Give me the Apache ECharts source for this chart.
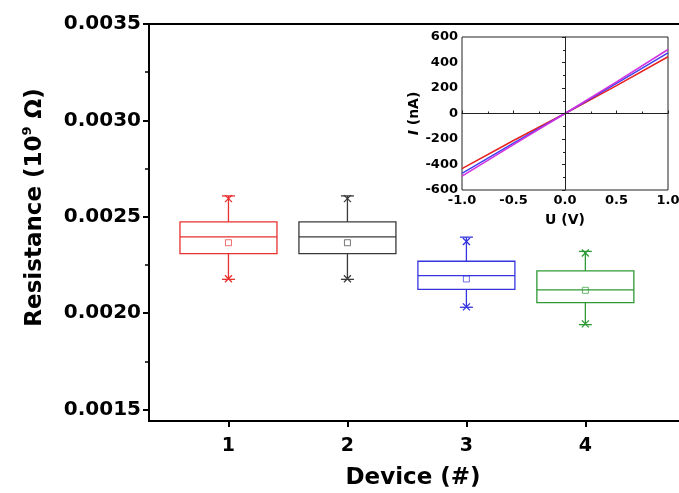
<!DOCTYPE html>
<html>
<head>
<meta charset="utf-8">
<script src="https://cdn.jsdelivr.net/npm/echarts@6/dist/echarts.min.js"></script>
<style>
  html, body { margin: 0; padding: 0; background: #fff; }
  #main { width: 679px; height: 493px; }
</style>
</head>
<body>
<div id="main"></div>
<script>
// box plot data, resistance in 10^9 ohm
var devices = [1, 2, 3, 4];
var boxMin = [0.002175, 0.002175, 0.00203, 0.00194];
var boxQ1 = [0.002308, 0.002308, 0.002123, 0.002054];
var boxMedian = [0.002395, 0.002395, 0.002194, 0.00212];
var boxQ3 = [0.002473, 0.002473, 0.002269, 0.002219];
var boxMax = [0.002608, 0.002608, 0.002394, 0.00232];
var boxMean = [0.002365, 0.002365, 0.002177, 0.002118];
var markHigh = [0.002594, 0.002594, 0.002371, 0.002312];
var markLow = [0.002178, 0.002178, 0.002032, 0.001944];
var boxColors = ['#e8302f', '#3a3a3a', '#3535e0', '#2e9a35'];

var yTicks = [0.0015, 0.002, 0.0025, 0.003, 0.0035];
var yMinorTicks = [0.00175, 0.00225, 0.00275, 0.00325];

// inset I-V curves
var ivVoltage = [-1, -0.5, 0, 0.5, 1];
var ivRed = [-432, -212, 0, 218, 445];
var ivBlue = [-470, -232, 0, 236, 475];
var ivMagenta = [-492, -244, 0, 248, 502];

var chart = echarts.init(document.getElementById('main'));

var boxData = devices.map(function (d, i) {
  return [d, boxMin[i], boxQ1[i], boxMedian[i], boxQ3[i], boxMax[i], boxMean[i], markHigh[i], markLow[i]];
});

function pairs(xs, ys) {
  return xs.map(function (x, i) { return [x, ys[i]]; });
}

function renderBox(params, api) {
  var x = api.value(0);
  var color = boxColors[params.dataIndex];
  var pt = function (v) { return api.coord([x, v]); };
  var pMin = pt(api.value(1)), pQ1 = pt(api.value(2)), pMed = pt(api.value(3));
  var pQ3 = pt(api.value(4)), pMax = pt(api.value(5)), pMean = pt(api.value(6));
  var pHi = pt(api.value(7)), pLo = pt(api.value(8));
  var cx = pMed[0];
  var hw = 48.5, cap = 6.5, ms = 3, xs = 3.5;
  var st = { stroke: color, fill: null, lineWidth: 1.3 };
  function line(x1, y1, x2, y2) {
    return { type: 'line', shape: { x1: x1, y1: y1, x2: x2, y2: y2 }, style: st };
  }
  return {
    type: 'group',
    children: [
      { type: 'rect', shape: { x: cx - hw, y: pQ3[1], width: hw * 2, height: pQ1[1] - pQ3[1] }, style: st },
      line(cx - hw, pMed[1], cx + hw, pMed[1]),
      line(cx, pQ3[1], cx, pMax[1]),
      line(cx, pQ1[1], cx, pMin[1]),
      line(cx - cap, pMax[1], cx + cap, pMax[1]),
      line(cx - cap, pMin[1], cx + cap, pMin[1]),
      line(cx - xs, pHi[1] - xs, cx + xs, pHi[1] + xs),
      line(cx - xs, pHi[1] + xs, cx + xs, pHi[1] - xs),
      line(cx - xs, pLo[1] - xs, cx + xs, pLo[1] + xs),
      line(cx - xs, pLo[1] + xs, cx + xs, pLo[1] - xs),
      { type: 'rect', shape: { x: cx - ms, y: pMean[1] - ms, width: ms * 2, height: ms * 2 },
        style: { stroke: color, fill: null, lineWidth: 1, opacity: 0.7 } }
    ]
  };
}

var bold = 'DejaVu Sans';

var option = {
  backgroundColor: '#fff',
  animation: false,
  grid: [{
    left: 149,
    top: 24,
    width: 547,
    bottom: 72,
    outerBoundsMode: 'none',
    show: true,
    borderColor: '#000',
    borderWidth: 2,
    backgroundColor: 'transparent'
  }, {
    left: 462,
    top: 37,
    width: 206,
    height: 153,
    outerBoundsMode: 'none',
    show: true,
    borderColor: '#222',
    borderWidth: 1,
    backgroundColor: '#fff'
  }],
  xAxis: [{
    type: 'value',
    gridIndex: 0,
    min: 0.332,
    max: 4.93,
    name: 'Device (#)',
    nameLocation: 'middle',
    nameGap: 46,
    nameTextStyle: { fontFamily: bold, fontWeight: 'bold', fontSize: 23, color: '#000', padding: [0, 19, 0, 0] },
    splitLine: { show: false },
    axisLine: { lineStyle: { color: '#000', width: 2 } },
    axisTick: { customValues: devices, length: 6, lineStyle: { color: '#000', width: 2 } },
    axisLabel: {
      customValues: devices, margin: 16,
      fontFamily: bold, fontWeight: 'bold', fontSize: 19, color: '#000'
    }
  }, {
    type: 'value',
    gridIndex: 1,
    min: -1,
    max: 1,
    interval: 0.5,
    name: 'U (V)',
    nameLocation: 'middle',
    nameGap: 23,
    nameTextStyle: { fontFamily: bold, fontWeight: 'bold', fontSize: 14, color: '#000' },
    splitLine: { show: false },
    axisLine: { lineStyle: { color: '#222', width: 1 } },
    axisTick: { inside: true, length: 3, lineStyle: { color: '#222' } },
    minorTick: { show: true, splitNumber: 2, length: 2, lineStyle: { color: '#222' } },
    axisLabel: {
      margin: 4, fontFamily: bold, fontWeight: 'bold', fontSize: 13, color: '#000',
      formatter: function (v) { return v.toFixed(1); }
    }
  }],
  yAxis: [{
    type: 'value',
    gridIndex: 0,
    min: 0.00144,
    max: 0.0035,
    name: '{a|Resistance (10}{s|9}{a| Ω)}',
    nameLocation: 'middle',
    nameGap: 100,
    nameTextStyle: {
      padding: [0, 0, 0, 30],
      rich: {
        a: { fontFamily: bold, fontWeight: 'bold', fontSize: 23, color: '#000', lineHeight: 28 },
        s: { fontFamily: bold, fontWeight: 'bold', fontSize: 13, color: '#000', lineHeight: 14, verticalAlign: 'top' }
      }
    },
    splitLine: { show: false },
    axisLine: { lineStyle: { color: '#000', width: 2 } },
    axisTick: { customValues: yTicks, length: 6, lineStyle: { color: '#000', width: 2 } },
    axisLabel: {
      customValues: yTicks, margin: 8,
      fontFamily: bold, fontWeight: 'bold', fontSize: 20, color: '#000',
      formatter: function (v) { return v.toFixed(4); }
    }
  }, {
    // minor ticks only
    type: 'value',
    gridIndex: 0,
    min: 0.00144,
    max: 0.0035,
    position: 'left',
    splitLine: { show: false },
    axisLine: { show: false },
    axisTick: { customValues: yMinorTicks, length: 4, lineStyle: { color: '#000', width: 1.5 } },
    axisLabel: { show: false }
  }, {
    type: 'value',
    gridIndex: 1,
    min: -600,
    max: 600,
    interval: 200,
    name: '{i|I} (nA)',
    nameLocation: 'middle',
    nameGap: 37,
    nameTextStyle: {
      fontFamily: bold, fontWeight: 'bold', fontSize: 14, color: '#000',
      rich: { i: { fontFamily: bold, fontWeight: 'bold', fontStyle: 'italic', fontSize: 14, color: '#000' } }
    },
    splitLine: { show: false },
    axisLine: { lineStyle: { color: '#222', width: 1 } },
    axisTick: { length: 3, lineStyle: { color: '#222' } },
    minorTick: { show: true, splitNumber: 2, length: 2, lineStyle: { color: '#222' } },
    axisLabel: { margin: 4, fontFamily: bold, fontWeight: 'bold', fontSize: 13, color: '#000' }
  }],
  series: [{
    type: 'custom',
    xAxisIndex: 0,
    yAxisIndex: 0,
    renderItem: renderBox,
    data: boxData,
    z: 3
  }, {
    type: 'line',
    xAxisIndex: 1,
    yAxisIndex: 2,
    showSymbol: false,
    data: pairs(ivVoltage, ivRed),
    lineStyle: { color: '#e82020', width: 1.5 },
    markLine: {
      silent: true,
      symbol: 'none',
      label: { show: false },
      lineStyle: { color: '#222', width: 1, type: 'solid' },
      data: [{ xAxis: 0 }, { yAxis: 0 }]
    },
    z: 4
  }, {
    type: 'line',
    xAxisIndex: 1,
    yAxisIndex: 2,
    showSymbol: false,
    data: pairs(ivVoltage, ivBlue),
    lineStyle: { color: '#4040f0', width: 1.5 },
    z: 4
  }, {
    type: 'line',
    xAxisIndex: 1,
    yAxisIndex: 2,
    showSymbol: false,
    data: pairs(ivVoltage, ivMagenta),
    lineStyle: { color: '#d030e0', width: 1.5 },
    z: 4
  }]
};

chart.setOption(option);
</script>
</body>
</html>
